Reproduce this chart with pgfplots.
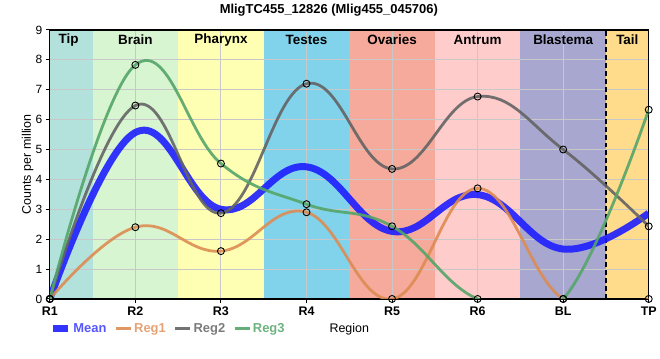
\documentclass[border=0pt]{standalone}
\usepackage{fontspec}
\setmainfont{Liberation Sans}
\usepackage{pgfplots}
\pgfplotsset{compat=1.18}
\definecolor{cTip}{RGB}{179,226,221}
\definecolor{cBrain}{RGB}{214,245,208}
\definecolor{cPhar}{RGB}{255,255,179}
\definecolor{cTest}{RGB}{128,211,235}
\definecolor{cOva}{RGB}{245,170,155}
\definecolor{cAntr}{RGB}{255,204,204}
\definecolor{cBlas}{RGB}{167,167,207}
\definecolor{cTail}{RGB}{255,220,140}
\definecolor{gridgray}{RGB}{200,200,200}
\definecolor{meanblue}{RGB}{30,30,255}
\definecolor{regorange}{RGB}{221,140,82}
\definecolor{reggray}{RGB}{100,100,100}
\definecolor{reggreen}{RGB}{85,165,105}
\begin{document}
\begin{tikzpicture}
\begin{axis}[
  at={(50pt,60pt)}, anchor=south west,
  scale only axis, width=601pt, height=270pt,
  xmin=0, xmax=7, ymin=0, ymax=9,
  xtick={0,...,7}, xticklabels={R1,R2,R3,R4,R5,R6,BL,TP},
  ytick={0,...,9},
  grid=major, grid style={color=gridgray, line width=1pt},
  set layers,
  axis line style={black, line width=1.3pt},
  tick style={black, line width=1pt},
  tick align=outside, major tick length=4pt,
  xtick pos=bottom, ytick pos=left,
  /pgf/number format/assume math mode=true,
  xticklabel style={font=\bfseries\fontsize{12.5}{12}\selectfont},
  yticklabel style={font=\fontsize{12}{12}\selectfont},
  xlabel={Region}, ylabel={Counts per million},
  xlabel style={at={(axis description cs:0.5,-0.111)}, anchor=center, font=\fontsize{12.5}{14}\selectfont},
  ylabel style={at={(axis description cs:-0.037,0.5)}, anchor=center, font=\fontsize{12.5}{14}\selectfont},
  legend style={at={(axis description cs:-0.006,-0.111)}, anchor=west, draw=none, fill=none,
    font=\bfseries\fontsize{13}{14}\selectfont,
    /tikz/every even column/.append style={column sep=6pt}},
  legend columns=-1,
  legend image code/.code={\draw[#1] (0pt,0pt) -- (15pt,0pt);},
  clip marker paths=false,
]
% background bands
\addplot[forget plot, draw=none, fill=cTip, on layer=axis background] coordinates {(0,9)(0.5,9)} \closedcycle;
\addplot[forget plot, draw=none, fill=cBrain, on layer=axis background] coordinates {(0.5,9)(1.5,9)} \closedcycle;
\addplot[forget plot, draw=none, fill=cPhar, on layer=axis background] coordinates {(1.5,9)(2.5,9)} \closedcycle;
\addplot[forget plot, draw=none, fill=cTest, on layer=axis background] coordinates {(2.5,9)(3.5,9)} \closedcycle;
\addplot[forget plot, draw=none, fill=cOva, on layer=axis background] coordinates {(3.5,9)(4.5,9)} \closedcycle;
\addplot[forget plot, draw=none, fill=cAntr, on layer=axis background] coordinates {(4.5,9)(5.5,9)} \closedcycle;
\addplot[forget plot, draw=none, fill=cBlas, on layer=axis background] coordinates {(5.5,9)(6.5,9)} \closedcycle;
\addplot[forget plot, draw=none, fill=cTail, on layer=axis background] coordinates {(6.5,9)(7,9)} \closedcycle;
% band names
\begin{scope}[font=\bfseries\fontsize{13.5}{14}\selectfont]
\node at (axis cs:0.22,8.67) {Tip};
\node at (axis cs:1,8.67) {Brain};
\node at (axis cs:2,8.67) {Pharynx};
\node at (axis cs:3,8.67) {Testes};
\node at (axis cs:4,8.67) {Ovaries};
\node at (axis cs:5,8.67) {Antrum};
\node at (axis cs:6,8.67) {Blastema};
\node at (axis cs:6.75,8.67) {Tail};
\end{scope}
% divider
\addplot[forget plot, black, line width=2pt, dash pattern=on 5pt off 3pt] coordinates {(6.5,0)(6.5,9)};
% series
\addplot[meanblue, opacity=0.9, line width=7pt, smooth, tension=0.7, no marks] coordinates {
(0,0)(1,5.57)(2,3.0)(3,4.42)(4,2.26)(5,3.49)(6,1.67)(7,2.87)};
\addlegendentry[text=meanblue!75!white]{Mean}
\addplot[regorange, opacity=0.9, line width=2.8pt, smooth, tension=0.7, mark=o, mark size=3.5pt,
  mark options={draw=black, line width=0.9pt, fill=white, fill opacity=0.4, opacity=1}] coordinates {
(0,0)(1,2.4)(2,1.6)(3,2.9)(4,0)(5,3.7)(6,0)(7,0)};
\addlegendentry[text=regorange!80!white]{Reg1}
\addplot[reggray, opacity=0.9, line width=2.8pt, smooth, tension=0.7, mark=o, mark size=3.5pt,
  mark options={draw=black, line width=0.9pt, fill=white, fill opacity=0.4, opacity=1}] coordinates {
(0,0)(1,6.47)(2,2.87)(3,7.2)(4,4.35)(5,6.77)(6,5.0)(7,2.43)};
\addlegendentry[text=reggray!85!white]{Reg2}
\addplot[reggreen, opacity=0.9, line width=2.8pt, smooth, tension=0.7, mark=o, mark size=3.5pt,
  mark options={draw=black, line width=0.9pt, fill=white, fill opacity=0.4, opacity=1}] coordinates {
(0,0)(1,7.83)(2,4.53)(3,3.17)(4,2.43)(5,0)(6,0)(7,6.33)};
\addlegendentry[text=reggreen!85!white]{Reg3}
\end{axis}
\node[font=\bfseries\fontsize{13}{14}\selectfont] at (330pt,350pt) {MligTC455\_12826 (Mlig455\_045706)};
\path (0pt,0pt) rectangle (660pt,360pt);
\end{tikzpicture}
\end{document}
